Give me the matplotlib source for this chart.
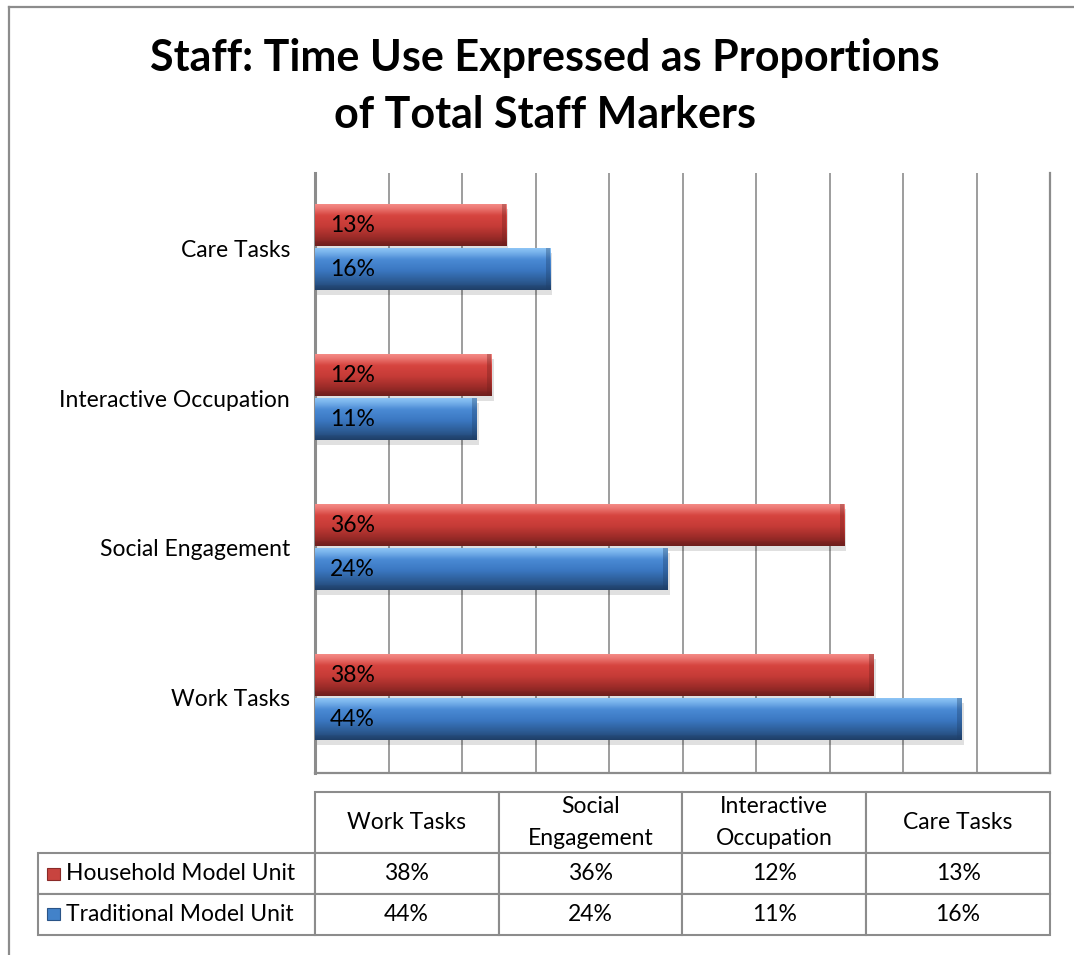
import numpy as np
import matplotlib
matplotlib.use("Agg")
import matplotlib.pyplot as plt
from matplotlib.colors import LinearSegmentedColormap
from matplotlib.patches import Rectangle
from matplotlib.lines import Line2D
from matplotlib.table import Table

plt.rcParams['font.family'] = ['Lato', 'DejaVu Sans']

# categories, bottom to top on the chart (left to right in the table)
categories = ['Work Tasks', 'Social Engagement', 'Interactive Occupation', 'Care Tasks']
table_headers = ['Work Tasks', 'Social\nEngagement', 'Interactive\nOccupation', 'Care Tasks']
series_names = ['Household Model Unit', 'Traditional Model Unit']
household = [38, 36, 12, 13]
traditional = [44, 24, 11, 16]

RED_SHADES = ['#f48a86', '#d6443f', '#c63b37', '#9e2c29', '#6e1f1d']
BLUE_SHADES = ['#8cc4f5', '#4a8ad4', '#3b78c2', '#2d5d97', '#1f3f68']
GRID = '#8c8c8c'
FS = 16.5


def shade_bar(ax, bar, shades):
    # vertical gradient clipped to the bar to give the bevelled look
    x, y = bar.get_x(), bar.get_y()
    w, h = bar.get_width(), bar.get_height()
    # soft drop shadow
    ax.add_patch(Rectangle((x + 0.15, y - 0.03), w, h, facecolor='#000000',
                           alpha=0.12, edgecolor='none', zorder=2))
    cmap = LinearSegmentedColormap.from_list('bevel', shades)
    grad = np.concatenate([np.linspace(0, 0.08, 6), np.linspace(0.1, 0.85, 40),
                           np.linspace(0.9, 1.0, 6)]).reshape(-1, 1)
    im = ax.imshow(grad, extent=(x, x + w, y, y + h), cmap=cmap, vmin=0, vmax=1,
                   aspect='auto', zorder=3, interpolation='bilinear')
    im.set_clip_path(bar)
    # darker bevel at the end of the bar
    ax.add_patch(Rectangle((x + w - 0.3, y), 0.3, h, facecolor=shades[-1],
                           alpha=0.35, edgecolor='none', zorder=3.5))


fig = plt.figure(figsize=(10.74, 9.55), dpi=100)
ax = fig.add_axes([315 / 1074, 1 - 773 / 955, 735 / 1074, 600 / 955])

y = np.arange(len(categories))
h = 0.28
bars_h = ax.barh(y + 0.153, household, height=h, color='#c63b37', zorder=3)
bars_t = ax.barh(y - 0.14, traditional, height=h, color='#3b78c2', zorder=3)

for bar, v in zip(bars_h, household):
    shade_bar(ax, bar, RED_SHADES)
    ax.text(1.0, bar.get_y() + bar.get_height() / 2, f'{v}%', va='center',
            ha='left', fontsize=FS, color='black', zorder=5)
for bar, v in zip(bars_t, traditional):
    shade_bar(ax, bar, BLUE_SHADES)
    ax.text(1.0, bar.get_y() + bar.get_height() / 2, f'{v}%', va='center',
            ha='left', fontsize=FS, color='black', zorder=5)

ax.set_xlim(0, 50)
ax.set_ylim(-0.5, 3.5)
ax.set_xticks(np.arange(0, 51, 5))
ax.set_xticklabels([])
ax.set_yticks(y)
ax.set_yticklabels(categories, fontsize=FS)
ax.tick_params(axis='y', length=0, pad=18)
ax.tick_params(axis='x', length=0)
ax.grid(axis='x', color=GRID, linewidth=1.2, zorder=0)
ax.set_axisbelow(True)
ax.spines['top'].set_visible(False)
for side in ('left', 'bottom', 'right'):
    ax.spines[side].set_color(GRID)
    ax.spines[side].set_linewidth(1.6)
ax.spines['left'].set_linewidth(2.2)

# data table below the plot
col_w, lab_w = 184, 277
hdr_h, row_h = 61, 41
tbl = Table(ax, bbox=[(38 - 315) / 735, (773 - 935) / 600, (1050 - 38) / 735, 143 / 600])
for j, name in enumerate(table_headers):
    tbl.add_cell(0, j + 1, col_w, hdr_h, text=name, loc='center')
for i, (name, vals) in enumerate(zip(series_names, [household, traditional])):
    tbl.add_cell(i + 1, 0, lab_w, row_h, text=name, loc='left')
    for j, v in enumerate(vals):
        tbl.add_cell(i + 1, j + 1, col_w, row_h, text=f'{v}%', loc='center')
tbl.auto_set_font_size(False)
tbl.set_fontsize(FS)
for (r, c), cell in tbl.get_celld().items():
    cell.set_edgecolor(GRID)
    cell.set_linewidth(1.5)
    if r == 0:
        cell.get_text().set_linespacing(1.7)
ax.add_table(tbl)

# legend keys inside the row-label cells
for yc, face, edge in [(874, '#c8443f', '#8a2a28'), (914, '#4282c9', '#2a5487')]:
    fig.add_artist(Rectangle((47 / 1074, 1 - (yc + 6) / 955), 13 / 1074, 12 / 955,
                             transform=fig.transFigure, facecolor=face,
                             edgecolor=edge, linewidth=0.8))

fig.text(545 / 1074, 1 - 58 / 955, 'Staff: Time Use Expressed as Proportions',
         ha='center', va='center', fontsize=31, fontweight='bold')
fig.text(545 / 1074, 1 - 115 / 955, 'of Total Staff Markers',
         ha='center', va='center', fontsize=31, fontweight='bold')

# outer chart frame
fig.add_artist(Line2D([9 / 1074, 9 / 1074], [0, 1 - 7 / 955], color=GRID, lw=1.6,
                      transform=fig.transFigure))
fig.add_artist(Line2D([9 / 1074, 1], [1 - 7 / 955, 1 - 7 / 955], color=GRID, lw=1.6,
                      transform=fig.transFigure))

fig.savefig('out.png', dpi=100)
